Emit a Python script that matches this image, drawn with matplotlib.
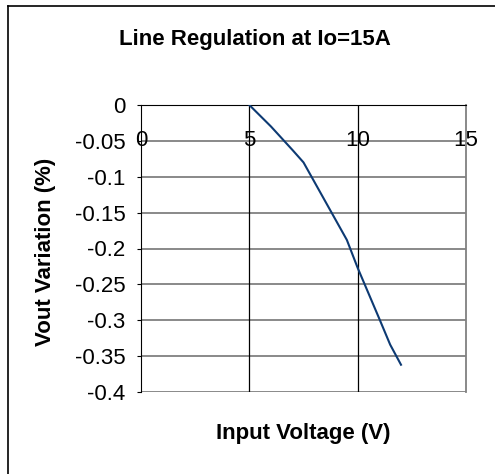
import numpy as np
import matplotlib.pyplot as plt
from matplotlib.lines import Line2D

plt.rcParams['font.family'] = ['Liberation Sans', 'DejaVu Sans']

title = 'Line Regulation at Io=15A'
x_label = 'Input Voltage (V)'
y_label = 'Vout Variation (%)'

vin = [5, 6, 7, 7.5, 8.5, 9.5, 10, 11, 11.5, 12]
vout_var = [0, -0.03, -0.063, -0.08, -0.134, -0.188, -0.227, -0.298, -0.334, -0.362]

x_ticks = [0, 5, 10, 15]
y_ticks = np.arange(0, -0.4001, -0.05)
y_tick_labels = ['0', '-0.05', '-0.1', '-0.15', '-0.2', '-0.25', '-0.3', '-0.35', '-0.4']

fig = plt.figure(figsize=(4.95, 4.74), dpi=100)
# chart frame: only the left and top edges show in the picture
bx = 7.5 / 495
by = 1 - 5.5 / 474
fig.add_artist(Line2D([bx, bx], [0, by], transform=fig.transFigure,
                      color='black', linewidth=1.2))
fig.add_artist(Line2D([bx, 1], [by, by], transform=fig.transFigure,
                      color='black', linewidth=1.2))

ax = fig.add_axes([141 / 495, (474 - 392) / 474, 325 / 495, 287 / 474])
ax.set_xlim(0, 15)
ax.set_ylim(-0.4, 0)

# horizontal grid in grey, vertical in black
for y in y_ticks[1:]:
    ax.axhline(y, color='#808080', linewidth=1.3, zorder=1)
for x in x_ticks[1:-1]:
    ax.axvline(x, color='black', linewidth=0.9, zorder=1)

ax.plot(vin, vout_var, color='#0d3a73', linewidth=1.5, zorder=3)

ax.spines['bottom'].set_position(('data', 0))
ax.spines['bottom'].set_color('black')
ax.spines['top'].set_visible(False)
ax.spines['right'].set_color('#808080')
ax.spines['right'].set_linewidth(1.3)
ax.spines['left'].set_color('black')

ax.set_xticks(x_ticks)
ax.set_xticklabels([str(t) for t in x_ticks])
ax.tick_params(axis='x', length=0, pad=18, labelsize=16)
ax.set_yticks(y_ticks)
ax.set_yticklabels(y_tick_labels)
ax.tick_params(axis='y', length=3, pad=8, labelsize=16)

fig.text(255 / 495, 1 - 40 / 474, title, ha='center', va='center',
         fontsize=16, fontweight='bold')
fig.text(46 / 495, 1 - 252 / 474, y_label, ha='center', va='center',
         rotation=90, fontsize=16, fontweight='bold')
fig.text(303 / 495, 1 - 434 / 474, x_label, ha='center', va='center',
         fontsize=16, fontweight='bold')

plt.savefig('out.png', dpi=100)
